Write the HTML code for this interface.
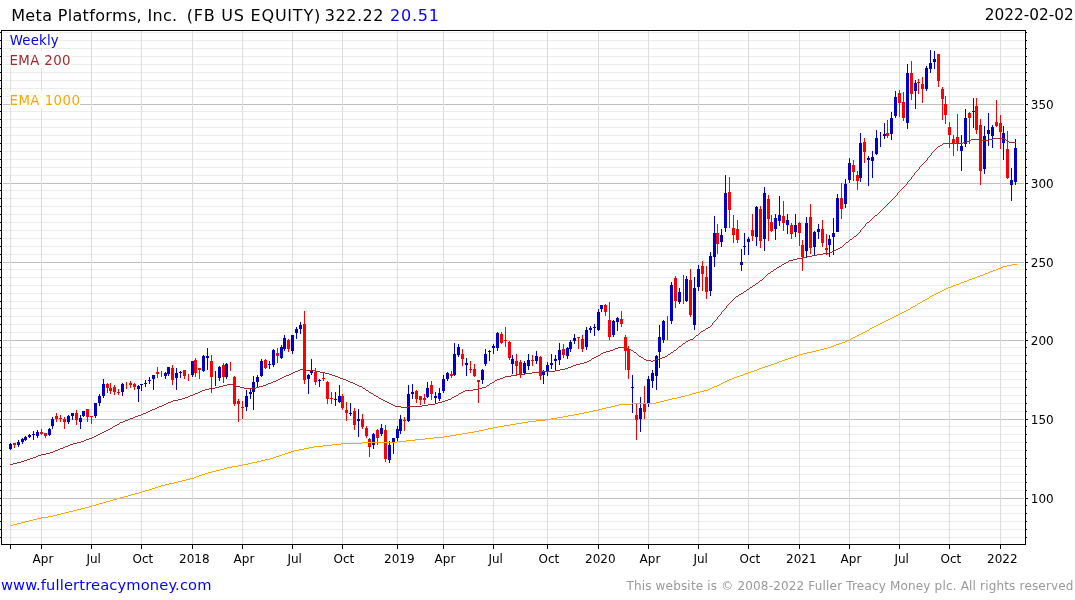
<!DOCTYPE html>
<html lang="en"><head><meta charset="utf-8"><title>Meta Platforms, Inc. (FB US EQUITY)</title>
<style>html,body{margin:0;padding:0;background:#fff;}body{width:1075px;height:600px;overflow:hidden;}svg{display:block;will-change:transform;font-family:"DejaVu Sans","Liberation Sans",sans-serif;}.t{font-size:16px;}.l{font-size:13.33px;}.x{font-size:12px;}</style></head><body>
<svg width="1075" height="600" viewBox="0 0 1075 600">
<rect width="1075" height="600" fill="#fff"/>
<g shape-rendering="crispEdges">
<rect x="3" y="537" width="1021" height="1" fill="#ececec"/>
<rect x="3" y="529" width="1021" height="1" fill="#ececec"/>
<rect x="3" y="521" width="1021" height="1" fill="#ececec"/>
<rect x="3" y="513" width="1021" height="1" fill="#ececec"/>
<rect x="3" y="505" width="1021" height="1" fill="#ececec"/>
<rect x="3" y="498" width="1021" height="1" fill="#c0c0c0"/>
<rect x="3" y="490" width="1021" height="1" fill="#ececec"/>
<rect x="3" y="482" width="1021" height="1" fill="#ececec"/>
<rect x="3" y="474" width="1021" height="1" fill="#ececec"/>
<rect x="3" y="466" width="1021" height="1" fill="#ececec"/>
<rect x="3" y="458" width="1021" height="1" fill="#ececec"/>
<rect x="3" y="450" width="1021" height="1" fill="#ececec"/>
<rect x="3" y="442" width="1021" height="1" fill="#ececec"/>
<rect x="3" y="434" width="1021" height="1" fill="#ececec"/>
<rect x="3" y="426" width="1021" height="1" fill="#ececec"/>
<rect x="3" y="419" width="1021" height="1" fill="#c0c0c0"/>
<rect x="3" y="411" width="1021" height="1" fill="#ececec"/>
<rect x="3" y="403" width="1021" height="1" fill="#ececec"/>
<rect x="3" y="395" width="1021" height="1" fill="#ececec"/>
<rect x="3" y="387" width="1021" height="1" fill="#ececec"/>
<rect x="3" y="379" width="1021" height="1" fill="#ececec"/>
<rect x="3" y="371" width="1021" height="1" fill="#ececec"/>
<rect x="3" y="363" width="1021" height="1" fill="#ececec"/>
<rect x="3" y="355" width="1021" height="1" fill="#ececec"/>
<rect x="3" y="347" width="1021" height="1" fill="#ececec"/>
<rect x="3" y="340" width="1021" height="1" fill="#c0c0c0"/>
<rect x="3" y="332" width="1021" height="1" fill="#ececec"/>
<rect x="3" y="324" width="1021" height="1" fill="#ececec"/>
<rect x="3" y="316" width="1021" height="1" fill="#ececec"/>
<rect x="3" y="308" width="1021" height="1" fill="#ececec"/>
<rect x="3" y="301" width="1021" height="1" fill="#ececec"/>
<rect x="3" y="293" width="1021" height="1" fill="#ececec"/>
<rect x="3" y="285" width="1021" height="1" fill="#ececec"/>
<rect x="3" y="277" width="1021" height="1" fill="#ececec"/>
<rect x="3" y="269" width="1021" height="1" fill="#ececec"/>
<rect x="3" y="262" width="1021" height="1" fill="#c0c0c0"/>
<rect x="3" y="254" width="1021" height="1" fill="#ececec"/>
<rect x="3" y="246" width="1021" height="1" fill="#ececec"/>
<rect x="3" y="238" width="1021" height="1" fill="#ececec"/>
<rect x="3" y="230" width="1021" height="1" fill="#ececec"/>
<rect x="3" y="222" width="1021" height="1" fill="#ececec"/>
<rect x="3" y="214" width="1021" height="1" fill="#ececec"/>
<rect x="3" y="206" width="1021" height="1" fill="#ececec"/>
<rect x="3" y="198" width="1021" height="1" fill="#ececec"/>
<rect x="3" y="190" width="1021" height="1" fill="#ececec"/>
<rect x="3" y="183" width="1021" height="1" fill="#c0c0c0"/>
<rect x="3" y="175" width="1021" height="1" fill="#ececec"/>
<rect x="3" y="167" width="1021" height="1" fill="#ececec"/>
<rect x="3" y="159" width="1021" height="1" fill="#ececec"/>
<rect x="3" y="151" width="1021" height="1" fill="#ececec"/>
<rect x="3" y="143" width="1021" height="1" fill="#ececec"/>
<rect x="3" y="135" width="1021" height="1" fill="#ececec"/>
<rect x="3" y="127" width="1021" height="1" fill="#ececec"/>
<rect x="3" y="119" width="1021" height="1" fill="#ececec"/>
<rect x="3" y="111" width="1021" height="1" fill="#ececec"/>
<rect x="3" y="104" width="1021" height="1" fill="#c0c0c0"/>
<rect x="3" y="96" width="1021" height="1" fill="#ececec"/>
<rect x="3" y="88" width="1021" height="1" fill="#ececec"/>
<rect x="3" y="80" width="1021" height="1" fill="#ececec"/>
<rect x="3" y="72" width="1021" height="1" fill="#ececec"/>
<rect x="3" y="64" width="1021" height="1" fill="#ececec"/>
<rect x="3" y="56" width="1021" height="1" fill="#ececec"/>
<rect x="3" y="48" width="1021" height="1" fill="#ececec"/>
<rect x="3" y="40" width="1021" height="1" fill="#ececec"/>
<rect x="3" y="32" width="1021" height="1" fill="#ececec"/>
<rect x="10" y="31" width="1" height="513" fill="#dcdcdc"/>
<rect x="41" y="31" width="1" height="513" fill="#dcdcdc"/>
<rect x="91" y="31" width="1" height="513" fill="#dcdcdc"/>
<rect x="141" y="31" width="1" height="513" fill="#dcdcdc"/>
<rect x="192" y="31" width="1" height="513" fill="#dcdcdc"/>
<rect x="242" y="31" width="1" height="513" fill="#dcdcdc"/>
<rect x="292" y="31" width="1" height="513" fill="#dcdcdc"/>
<rect x="342" y="31" width="1" height="513" fill="#dcdcdc"/>
<rect x="397" y="31" width="1" height="513" fill="#dcdcdc"/>
<rect x="443" y="31" width="1" height="513" fill="#dcdcdc"/>
<rect x="493" y="31" width="1" height="513" fill="#dcdcdc"/>
<rect x="547" y="31" width="1" height="513" fill="#dcdcdc"/>
<rect x="598" y="31" width="1" height="513" fill="#dcdcdc"/>
<rect x="648" y="31" width="1" height="513" fill="#dcdcdc"/>
<rect x="698" y="31" width="1" height="513" fill="#dcdcdc"/>
<rect x="748" y="31" width="1" height="513" fill="#dcdcdc"/>
<rect x="799" y="31" width="1" height="513" fill="#dcdcdc"/>
<rect x="849" y="31" width="1" height="513" fill="#dcdcdc"/>
<rect x="899" y="31" width="1" height="513" fill="#dcdcdc"/>
<rect x="949" y="31" width="1" height="513" fill="#dcdcdc"/>
<rect x="1000" y="31" width="1" height="513" fill="#dcdcdc"/>
</g>
<rect x="10" y="31" width="49" height="17" fill="#fff"/>
<rect x="10" y="51" width="61" height="17" fill="#fff"/>
<rect x="10" y="91" width="70" height="17" fill="#fff"/>
<g shape-rendering="crispEdges">
<rect x="10" y="443" width="1" height="7" fill="#0000cd"/>
<rect x="9" y="444" width="3" height="5" fill="#0000cd"/>
<rect x="14" y="443" width="1" height="5" fill="#ff0000"/>
<rect x="13" y="443" width="3" height="2" fill="#ff0000"/>
<rect x="18" y="440" width="1" height="7" fill="#0000cd"/>
<rect x="17" y="442" width="3" height="3" fill="#0000cd"/>
<rect x="22" y="438" width="1" height="6" fill="#0000cd"/>
<rect x="21" y="439" width="3" height="3" fill="#0000cd"/>
<rect x="25" y="436" width="1" height="5" fill="#0000cd"/>
<rect x="24" y="437" width="3" height="3" fill="#0000cd"/>
<rect x="29" y="434" width="1" height="4" fill="#0000cd"/>
<rect x="28" y="435" width="3" height="2" fill="#0000cd"/>
<rect x="33" y="431" width="1" height="9" fill="#0000cd"/>
<rect x="32" y="434" width="3" height="1" fill="#0000cd"/>
<rect x="37" y="430" width="1" height="8" fill="#0000cd"/>
<rect x="36" y="432" width="3" height="4" fill="#0000cd"/>
<rect x="41" y="429" width="1" height="6" fill="#ff0000"/>
<rect x="40" y="432" width="3" height="2" fill="#ff0000"/>
<rect x="45" y="433" width="1" height="5" fill="#ff0000"/>
<rect x="44" y="433" width="3" height="3" fill="#ff0000"/>
<rect x="49" y="428" width="1" height="8" fill="#0000cd"/>
<rect x="48" y="429" width="3" height="6" fill="#0000cd"/>
<rect x="52" y="417" width="1" height="12" fill="#0000cd"/>
<rect x="51" y="419" width="3" height="7" fill="#0000cd"/>
<rect x="56" y="413" width="1" height="9" fill="#ff0000"/>
<rect x="55" y="416" width="3" height="3" fill="#ff0000"/>
<rect x="60" y="415" width="1" height="7" fill="#ff0000"/>
<rect x="59" y="418" width="3" height="1" fill="#ff0000"/>
<rect x="64" y="417" width="1" height="12" fill="#ff0000"/>
<rect x="63" y="419" width="3" height="3" fill="#ff0000"/>
<rect x="68" y="415" width="1" height="9" fill="#0000cd"/>
<rect x="67" y="416" width="3" height="6" fill="#0000cd"/>
<rect x="72" y="413" width="1" height="7" fill="#0000cd"/>
<rect x="71" y="413" width="3" height="3" fill="#0000cd"/>
<rect x="76" y="410" width="1" height="15" fill="#ff0000"/>
<rect x="75" y="413" width="3" height="7" fill="#ff0000"/>
<rect x="80" y="415" width="1" height="14" fill="#0000cd"/>
<rect x="79" y="418" width="3" height="4" fill="#0000cd"/>
<rect x="83" y="411" width="1" height="6" fill="#0000cd"/>
<rect x="82" y="411" width="3" height="5" fill="#0000cd"/>
<rect x="87" y="409" width="1" height="13" fill="#ff0000"/>
<rect x="86" y="409" width="3" height="8" fill="#ff0000"/>
<rect x="91" y="416" width="1" height="8" fill="#ff0000"/>
<rect x="90" y="416" width="3" height="1" fill="#ff0000"/>
<rect x="95" y="403" width="1" height="15" fill="#0000cd"/>
<rect x="94" y="403" width="3" height="13" fill="#0000cd"/>
<rect x="99" y="394" width="1" height="12" fill="#0000cd"/>
<rect x="98" y="396" width="3" height="7" fill="#0000cd"/>
<rect x="103" y="379" width="1" height="19" fill="#0000cd"/>
<rect x="102" y="384" width="3" height="12" fill="#0000cd"/>
<rect x="107" y="383" width="1" height="10" fill="#ff0000"/>
<rect x="106" y="384" width="3" height="4" fill="#ff0000"/>
<rect x="110" y="383" width="1" height="11" fill="#ff0000"/>
<rect x="109" y="388" width="3" height="3" fill="#ff0000"/>
<rect x="114" y="385" width="1" height="10" fill="#ff0000"/>
<rect x="113" y="387" width="3" height="5" fill="#ff0000"/>
<rect x="118" y="389" width="1" height="6" fill="#ff0000"/>
<rect x="117" y="392" width="3" height="1" fill="#ff0000"/>
<rect x="122" y="383" width="1" height="13" fill="#0000cd"/>
<rect x="121" y="384" width="3" height="8" fill="#0000cd"/>
<rect x="126" y="382" width="1" height="7" fill="#ff0000"/>
<rect x="130" y="381" width="1" height="7" fill="#ff0000"/>
<rect x="129" y="383" width="3" height="2" fill="#ff0000"/>
<rect x="134" y="383" width="1" height="7" fill="#ff0000"/>
<rect x="133" y="384" width="3" height="3" fill="#ff0000"/>
<rect x="138" y="385" width="1" height="17" fill="#0000cd"/>
<rect x="137" y="386" width="3" height="3" fill="#0000cd"/>
<rect x="141" y="384" width="1" height="7" fill="#0000cd"/>
<rect x="140" y="384" width="3" height="1" fill="#0000cd"/>
<rect x="145" y="380" width="1" height="7" fill="#0000cd"/>
<rect x="144" y="383" width="3" height="1" fill="#0000cd"/>
<rect x="149" y="377" width="1" height="7" fill="#0000cd"/>
<rect x="148" y="380" width="3" height="1" fill="#0000cd"/>
<rect x="153" y="375" width="1" height="15" fill="#0000cd"/>
<rect x="152" y="375" width="3" height="4" fill="#0000cd"/>
<rect x="157" y="367" width="1" height="11" fill="#ff0000"/>
<rect x="156" y="372" width="3" height="2" fill="#ff0000"/>
<rect x="161" y="371" width="1" height="6" fill="#ff0000"/>
<rect x="165" y="372" width="1" height="7" fill="#0000cd"/>
<rect x="164" y="373" width="3" height="3" fill="#0000cd"/>
<rect x="168" y="367" width="1" height="9" fill="#0000cd"/>
<rect x="167" y="367" width="3" height="7" fill="#0000cd"/>
<rect x="172" y="365" width="1" height="20" fill="#ff0000"/>
<rect x="171" y="368" width="3" height="12" fill="#ff0000"/>
<rect x="176" y="368" width="1" height="22" fill="#0000cd"/>
<rect x="175" y="373" width="3" height="5" fill="#0000cd"/>
<rect x="180" y="371" width="1" height="7" fill="#0000cd"/>
<rect x="179" y="372" width="3" height="1" fill="#0000cd"/>
<rect x="184" y="370" width="1" height="9" fill="#ff0000"/>
<rect x="183" y="370" width="3" height="6" fill="#ff0000"/>
<rect x="188" y="374" width="1" height="7" fill="#ff0000"/>
<rect x="192" y="361" width="1" height="16" fill="#0000cd"/>
<rect x="191" y="361" width="3" height="14" fill="#0000cd"/>
<rect x="195" y="358" width="1" height="19" fill="#ff0000"/>
<rect x="194" y="360" width="3" height="13" fill="#ff0000"/>
<rect x="199" y="368" width="1" height="11" fill="#ff0000"/>
<rect x="198" y="368" width="3" height="2" fill="#ff0000"/>
<rect x="203" y="355" width="1" height="17" fill="#0000cd"/>
<rect x="202" y="356" width="3" height="15" fill="#0000cd"/>
<rect x="207" y="348" width="1" height="22" fill="#0000cd"/>
<rect x="206" y="356" width="3" height="2" fill="#0000cd"/>
<rect x="211" y="355" width="1" height="38" fill="#ff0000"/>
<rect x="210" y="361" width="3" height="16" fill="#ff0000"/>
<rect x="215" y="371" width="1" height="15" fill="#0000cd"/>
<rect x="219" y="366" width="1" height="15" fill="#0000cd"/>
<rect x="218" y="367" width="3" height="11" fill="#0000cd"/>
<rect x="223" y="363" width="1" height="20" fill="#ff0000"/>
<rect x="222" y="365" width="3" height="12" fill="#ff0000"/>
<rect x="226" y="363" width="1" height="16" fill="#0000cd"/>
<rect x="225" y="364" width="3" height="13" fill="#0000cd"/>
<rect x="230" y="362" width="1" height="9" fill="#ff0000"/>
<rect x="234" y="376" width="1" height="30" fill="#ff0000"/>
<rect x="233" y="377" width="3" height="27" fill="#ff0000"/>
<rect x="238" y="399" width="1" height="23" fill="#ff0000"/>
<rect x="237" y="401" width="3" height="3" fill="#ff0000"/>
<rect x="242" y="401" width="1" height="18" fill="#ff0000"/>
<rect x="241" y="407" width="3" height="1" fill="#ff0000"/>
<rect x="246" y="390" width="1" height="21" fill="#0000cd"/>
<rect x="245" y="396" width="3" height="11" fill="#0000cd"/>
<rect x="250" y="389" width="1" height="10" fill="#0000cd"/>
<rect x="249" y="392" width="3" height="2" fill="#0000cd"/>
<rect x="253" y="376" width="1" height="34" fill="#0000cd"/>
<rect x="252" y="382" width="3" height="10" fill="#0000cd"/>
<rect x="257" y="375" width="1" height="12" fill="#0000cd"/>
<rect x="256" y="377" width="3" height="5" fill="#0000cd"/>
<rect x="261" y="359" width="1" height="18" fill="#0000cd"/>
<rect x="260" y="361" width="3" height="15" fill="#0000cd"/>
<rect x="265" y="359" width="1" height="10" fill="#ff0000"/>
<rect x="264" y="360" width="3" height="8" fill="#ff0000"/>
<rect x="269" y="361" width="1" height="8" fill="#0000cd"/>
<rect x="268" y="364" width="3" height="1" fill="#0000cd"/>
<rect x="273" y="349" width="1" height="18" fill="#0000cd"/>
<rect x="272" y="350" width="3" height="15" fill="#0000cd"/>
<rect x="277" y="348" width="1" height="15" fill="#ff0000"/>
<rect x="276" y="353" width="3" height="3" fill="#ff0000"/>
<rect x="281" y="345" width="1" height="14" fill="#0000cd"/>
<rect x="280" y="347" width="3" height="11" fill="#0000cd"/>
<rect x="284" y="335" width="1" height="16" fill="#0000cd"/>
<rect x="283" y="338" width="3" height="11" fill="#0000cd"/>
<rect x="288" y="339" width="1" height="13" fill="#ff0000"/>
<rect x="287" y="340" width="3" height="9" fill="#ff0000"/>
<rect x="292" y="335" width="1" height="19" fill="#0000cd"/>
<rect x="291" y="335" width="3" height="16" fill="#0000cd"/>
<rect x="296" y="327" width="1" height="12" fill="#0000cd"/>
<rect x="295" y="329" width="3" height="4" fill="#0000cd"/>
<rect x="300" y="322" width="1" height="12" fill="#0000cd"/>
<rect x="299" y="325" width="3" height="4" fill="#0000cd"/>
<rect x="304" y="311" width="1" height="73" fill="#ff0000"/>
<rect x="303" y="324" width="3" height="56" fill="#ff0000"/>
<rect x="308" y="374" width="1" height="20" fill="#0000cd"/>
<rect x="307" y="375" width="3" height="4" fill="#0000cd"/>
<rect x="311" y="359" width="1" height="16" fill="#0000cd"/>
<rect x="310" y="371" width="3" height="2" fill="#0000cd"/>
<rect x="315" y="368" width="1" height="17" fill="#ff0000"/>
<rect x="314" y="372" width="3" height="10" fill="#ff0000"/>
<rect x="319" y="379" width="1" height="8" fill="#0000cd"/>
<rect x="318" y="380" width="3" height="1" fill="#0000cd"/>
<rect x="323" y="372" width="1" height="9" fill="#ff0000"/>
<rect x="322" y="378" width="3" height="1" fill="#ff0000"/>
<rect x="327" y="381" width="1" height="23" fill="#ff0000"/>
<rect x="326" y="382" width="3" height="17" fill="#ff0000"/>
<rect x="331" y="392" width="1" height="12" fill="#ff0000"/>
<rect x="330" y="398" width="3" height="1" fill="#ff0000"/>
<rect x="335" y="392" width="1" height="14" fill="#0000cd"/>
<rect x="334" y="399" width="3" height="1" fill="#0000cd"/>
<rect x="339" y="385" width="1" height="18" fill="#0000cd"/>
<rect x="338" y="396" width="3" height="6" fill="#0000cd"/>
<rect x="342" y="394" width="1" height="16" fill="#ff0000"/>
<rect x="341" y="396" width="3" height="12" fill="#ff0000"/>
<rect x="346" y="402" width="1" height="19" fill="#ff0000"/>
<rect x="345" y="410" width="3" height="3" fill="#ff0000"/>
<rect x="350" y="403" width="1" height="13" fill="#0000cd"/>
<rect x="349" y="413" width="3" height="1" fill="#0000cd"/>
<rect x="354" y="408" width="1" height="22" fill="#ff0000"/>
<rect x="353" y="411" width="3" height="14" fill="#ff0000"/>
<rect x="358" y="409" width="1" height="28" fill="#0000cd"/>
<rect x="357" y="419" width="3" height="2" fill="#0000cd"/>
<rect x="362" y="414" width="1" height="15" fill="#ff0000"/>
<rect x="361" y="419" width="3" height="8" fill="#ff0000"/>
<rect x="366" y="426" width="1" height="12" fill="#ff0000"/>
<rect x="365" y="428" width="3" height="8" fill="#ff0000"/>
<rect x="369" y="438" width="1" height="19" fill="#ff0000"/>
<rect x="368" y="439" width="3" height="8" fill="#ff0000"/>
<rect x="373" y="433" width="1" height="16" fill="#0000cd"/>
<rect x="372" y="434" width="3" height="11" fill="#0000cd"/>
<rect x="377" y="429" width="1" height="16" fill="#ff0000"/>
<rect x="376" y="430" width="3" height="8" fill="#ff0000"/>
<rect x="381" y="424" width="1" height="12" fill="#0000cd"/>
<rect x="380" y="428" width="3" height="6" fill="#0000cd"/>
<rect x="385" y="425" width="1" height="37" fill="#ff0000"/>
<rect x="384" y="430" width="3" height="29" fill="#ff0000"/>
<rect x="389" y="441" width="1" height="22" fill="#0000cd"/>
<rect x="388" y="445" width="3" height="15" fill="#0000cd"/>
<rect x="393" y="438" width="1" height="16" fill="#0000cd"/>
<rect x="392" y="438" width="3" height="5" fill="#0000cd"/>
<rect x="397" y="426" width="1" height="15" fill="#0000cd"/>
<rect x="396" y="429" width="3" height="9" fill="#0000cd"/>
<rect x="400" y="415" width="1" height="19" fill="#0000cd"/>
<rect x="399" y="419" width="3" height="12" fill="#0000cd"/>
<rect x="404" y="417" width="1" height="14" fill="#ff0000"/>
<rect x="403" y="420" width="3" height="1" fill="#ff0000"/>
<rect x="408" y="385" width="1" height="37" fill="#0000cd"/>
<rect x="407" y="394" width="3" height="27" fill="#0000cd"/>
<rect x="412" y="384" width="1" height="15" fill="#0000cd"/>
<rect x="411" y="392" width="3" height="2" fill="#0000cd"/>
<rect x="416" y="390" width="1" height="13" fill="#ff0000"/>
<rect x="415" y="391" width="3" height="8" fill="#ff0000"/>
<rect x="420" y="396" width="1" height="9" fill="#ff0000"/>
<rect x="419" y="396" width="3" height="4" fill="#ff0000"/>
<rect x="424" y="394" width="1" height="10" fill="#ff0000"/>
<rect x="423" y="398" width="3" height="2" fill="#ff0000"/>
<rect x="427" y="382" width="1" height="16" fill="#0000cd"/>
<rect x="426" y="388" width="3" height="9" fill="#0000cd"/>
<rect x="431" y="381" width="1" height="19" fill="#ff0000"/>
<rect x="430" y="385" width="3" height="9" fill="#ff0000"/>
<rect x="435" y="392" width="1" height="12" fill="#0000cd"/>
<rect x="434" y="396" width="3" height="2" fill="#0000cd"/>
<rect x="439" y="388" width="1" height="13" fill="#0000cd"/>
<rect x="438" y="393" width="3" height="6" fill="#0000cd"/>
<rect x="443" y="375" width="1" height="18" fill="#0000cd"/>
<rect x="442" y="379" width="3" height="12" fill="#0000cd"/>
<rect x="447" y="372" width="1" height="9" fill="#0000cd"/>
<rect x="446" y="373" width="3" height="6" fill="#0000cd"/>
<rect x="451" y="371" width="1" height="7" fill="#ff0000"/>
<rect x="450" y="374" width="3" height="2" fill="#ff0000"/>
<rect x="454" y="343" width="1" height="33" fill="#0000cd"/>
<rect x="453" y="354" width="3" height="21" fill="#0000cd"/>
<rect x="458" y="344" width="1" height="13" fill="#0000cd"/>
<rect x="457" y="347" width="3" height="8" fill="#0000cd"/>
<rect x="462" y="349" width="1" height="17" fill="#ff0000"/>
<rect x="461" y="354" width="3" height="5" fill="#ff0000"/>
<rect x="466" y="358" width="1" height="18" fill="#0000cd"/>
<rect x="465" y="363" width="3" height="2" fill="#0000cd"/>
<rect x="470" y="361" width="1" height="12" fill="#ff0000"/>
<rect x="469" y="369" width="3" height="1" fill="#ff0000"/>
<rect x="474" y="364" width="1" height="13" fill="#ff0000"/>
<rect x="473" y="369" width="3" height="7" fill="#ff0000"/>
<rect x="478" y="380" width="1" height="23" fill="#ff0000"/>
<rect x="477" y="380" width="3" height="2" fill="#ff0000"/>
<rect x="482" y="369" width="1" height="15" fill="#0000cd"/>
<rect x="481" y="370" width="3" height="10" fill="#0000cd"/>
<rect x="485" y="349" width="1" height="17" fill="#0000cd"/>
<rect x="484" y="354" width="3" height="10" fill="#0000cd"/>
<rect x="489" y="350" width="1" height="11" fill="#0000cd"/>
<rect x="488" y="351" width="3" height="1" fill="#0000cd"/>
<rect x="493" y="344" width="1" height="10" fill="#0000cd"/>
<rect x="492" y="346" width="3" height="2" fill="#0000cd"/>
<rect x="497" y="332" width="1" height="19" fill="#0000cd"/>
<rect x="496" y="333" width="3" height="15" fill="#0000cd"/>
<rect x="501" y="332" width="1" height="12" fill="#ff0000"/>
<rect x="500" y="334" width="3" height="9" fill="#ff0000"/>
<rect x="505" y="327" width="1" height="20" fill="#ff0000"/>
<rect x="504" y="340" width="3" height="1" fill="#ff0000"/>
<rect x="509" y="341" width="1" height="19" fill="#ff0000"/>
<rect x="508" y="342" width="3" height="16" fill="#ff0000"/>
<rect x="512" y="355" width="1" height="19" fill="#0000cd"/>
<rect x="511" y="359" width="3" height="5" fill="#0000cd"/>
<rect x="516" y="354" width="1" height="21" fill="#ff0000"/>
<rect x="515" y="361" width="3" height="5" fill="#ff0000"/>
<rect x="520" y="360" width="1" height="18" fill="#ff0000"/>
<rect x="519" y="362" width="3" height="13" fill="#ff0000"/>
<rect x="524" y="361" width="1" height="14" fill="#0000cd"/>
<rect x="523" y="363" width="3" height="10" fill="#0000cd"/>
<rect x="528" y="354" width="1" height="16" fill="#0000cd"/>
<rect x="527" y="360" width="3" height="6" fill="#0000cd"/>
<rect x="532" y="355" width="1" height="11" fill="#ff0000"/>
<rect x="531" y="360" width="3" height="1" fill="#ff0000"/>
<rect x="536" y="351" width="1" height="13" fill="#0000cd"/>
<rect x="535" y="356" width="3" height="5" fill="#0000cd"/>
<rect x="540" y="356" width="1" height="24" fill="#ff0000"/>
<rect x="539" y="357" width="3" height="19" fill="#ff0000"/>
<rect x="543" y="370" width="1" height="14" fill="#0000cd"/>
<rect x="542" y="372" width="3" height="3" fill="#0000cd"/>
<rect x="547" y="362" width="1" height="14" fill="#0000cd"/>
<rect x="546" y="365" width="3" height="7" fill="#0000cd"/>
<rect x="551" y="354" width="1" height="15" fill="#0000cd"/>
<rect x="550" y="363" width="3" height="2" fill="#0000cd"/>
<rect x="555" y="355" width="1" height="15" fill="#0000cd"/>
<rect x="554" y="359" width="3" height="2" fill="#0000cd"/>
<rect x="559" y="343" width="1" height="22" fill="#0000cd"/>
<rect x="558" y="350" width="3" height="10" fill="#0000cd"/>
<rect x="563" y="344" width="1" height="14" fill="#ff0000"/>
<rect x="562" y="349" width="3" height="6" fill="#ff0000"/>
<rect x="567" y="347" width="1" height="12" fill="#0000cd"/>
<rect x="566" y="348" width="3" height="8" fill="#0000cd"/>
<rect x="570" y="340" width="1" height="12" fill="#0000cd"/>
<rect x="569" y="342" width="3" height="7" fill="#0000cd"/>
<rect x="574" y="334" width="1" height="10" fill="#0000cd"/>
<rect x="573" y="338" width="3" height="3" fill="#0000cd"/>
<rect x="578" y="337" width="1" height="12" fill="#ff0000"/>
<rect x="577" y="337" width="3" height="1" fill="#ff0000"/>
<rect x="582" y="335" width="1" height="17" fill="#ff0000"/>
<rect x="581" y="339" width="3" height="10" fill="#ff0000"/>
<rect x="586" y="327" width="1" height="23" fill="#0000cd"/>
<rect x="585" y="330" width="3" height="17" fill="#0000cd"/>
<rect x="590" y="326" width="1" height="7" fill="#0000cd"/>
<rect x="589" y="328" width="3" height="2" fill="#0000cd"/>
<rect x="594" y="324" width="1" height="12" fill="#0000cd"/>
<rect x="593" y="327" width="3" height="1" fill="#0000cd"/>
<rect x="598" y="309" width="1" height="22" fill="#0000cd"/>
<rect x="597" y="312" width="3" height="18" fill="#0000cd"/>
<rect x="601" y="305" width="1" height="7" fill="#0000cd"/>
<rect x="600" y="305" width="3" height="4" fill="#0000cd"/>
<rect x="605" y="304" width="1" height="12" fill="#ff0000"/>
<rect x="604" y="305" width="3" height="7" fill="#ff0000"/>
<rect x="609" y="302" width="1" height="38" fill="#ff0000"/>
<rect x="608" y="320" width="3" height="17" fill="#ff0000"/>
<rect x="613" y="320" width="1" height="17" fill="#0000cd"/>
<rect x="612" y="321" width="3" height="14" fill="#0000cd"/>
<rect x="617" y="317" width="1" height="14" fill="#0000cd"/>
<rect x="616" y="318" width="3" height="4" fill="#0000cd"/>
<rect x="621" y="311" width="1" height="16" fill="#ff0000"/>
<rect x="620" y="319" width="3" height="5" fill="#ff0000"/>
<rect x="625" y="335" width="1" height="35" fill="#ff0000"/>
<rect x="624" y="337" width="3" height="14" fill="#ff0000"/>
<rect x="628" y="346" width="1" height="33" fill="#ff0000"/>
<rect x="627" y="349" width="3" height="21" fill="#ff0000"/>
<rect x="632" y="375" width="1" height="38" fill="#0000cd"/>
<rect x="631" y="387" width="3" height="1" fill="#0000cd"/>
<rect x="636" y="403" width="1" height="37" fill="#ff0000"/>
<rect x="635" y="415" width="3" height="5" fill="#ff0000"/>
<rect x="640" y="397" width="1" height="35" fill="#0000cd"/>
<rect x="639" y="408" width="3" height="11" fill="#0000cd"/>
<rect x="644" y="386" width="1" height="33" fill="#ff0000"/>
<rect x="643" y="404" width="3" height="8" fill="#ff0000"/>
<rect x="648" y="376" width="1" height="31" fill="#0000cd"/>
<rect x="647" y="379" width="3" height="25" fill="#0000cd"/>
<rect x="652" y="370" width="1" height="18" fill="#0000cd"/>
<rect x="651" y="373" width="3" height="8" fill="#0000cd"/>
<rect x="656" y="355" width="1" height="35" fill="#0000cd"/>
<rect x="655" y="356" width="3" height="20" fill="#0000cd"/>
<rect x="659" y="325" width="1" height="43" fill="#0000cd"/>
<rect x="658" y="337" width="3" height="15" fill="#0000cd"/>
<rect x="663" y="320" width="1" height="23" fill="#0000cd"/>
<rect x="662" y="321" width="3" height="19" fill="#0000cd"/>
<rect x="667" y="316" width="1" height="24" fill="#ff0000"/>
<rect x="671" y="282" width="1" height="42" fill="#0000cd"/>
<rect x="670" y="285" width="3" height="36" fill="#0000cd"/>
<rect x="675" y="276" width="1" height="32" fill="#ff0000"/>
<rect x="674" y="278" width="3" height="23" fill="#ff0000"/>
<rect x="679" y="288" width="1" height="16" fill="#0000cd"/>
<rect x="678" y="292" width="3" height="10" fill="#0000cd"/>
<rect x="683" y="275" width="1" height="29" fill="#ff0000"/>
<rect x="686" y="276" width="1" height="26" fill="#0000cd"/>
<rect x="685" y="279" width="3" height="22" fill="#0000cd"/>
<rect x="690" y="269" width="1" height="48" fill="#ff0000"/>
<rect x="689" y="280" width="3" height="35" fill="#ff0000"/>
<rect x="694" y="277" width="1" height="53" fill="#0000cd"/>
<rect x="693" y="288" width="3" height="37" fill="#0000cd"/>
<rect x="698" y="265" width="1" height="26" fill="#0000cd"/>
<rect x="697" y="269" width="3" height="18" fill="#0000cd"/>
<rect x="702" y="261" width="1" height="30" fill="#ff0000"/>
<rect x="701" y="266" width="3" height="8" fill="#ff0000"/>
<rect x="706" y="266" width="1" height="33" fill="#ff0000"/>
<rect x="705" y="277" width="3" height="15" fill="#ff0000"/>
<rect x="710" y="252" width="1" height="44" fill="#0000cd"/>
<rect x="709" y="256" width="3" height="35" fill="#0000cd"/>
<rect x="714" y="216" width="1" height="51" fill="#0000cd"/>
<rect x="713" y="233" width="3" height="24" fill="#0000cd"/>
<rect x="717" y="224" width="1" height="30" fill="#ff0000"/>
<rect x="716" y="233" width="3" height="11" fill="#ff0000"/>
<rect x="721" y="229" width="1" height="18" fill="#0000cd"/>
<rect x="720" y="235" width="3" height="7" fill="#0000cd"/>
<rect x="725" y="175" width="1" height="57" fill="#0000cd"/>
<rect x="724" y="193" width="3" height="35" fill="#0000cd"/>
<rect x="729" y="177" width="1" height="51" fill="#ff0000"/>
<rect x="728" y="192" width="3" height="18" fill="#ff0000"/>
<rect x="733" y="215" width="1" height="28" fill="#ff0000"/>
<rect x="732" y="228" width="3" height="7" fill="#ff0000"/>
<rect x="737" y="220" width="1" height="23" fill="#ff0000"/>
<rect x="736" y="229" width="3" height="11" fill="#ff0000"/>
<rect x="741" y="249" width="1" height="22" fill="#0000cd"/>
<rect x="740" y="262" width="3" height="3" fill="#0000cd"/>
<rect x="744" y="233" width="1" height="22" fill="#0000cd"/>
<rect x="743" y="246" width="3" height="1" fill="#0000cd"/>
<rect x="748" y="237" width="1" height="18" fill="#0000cd"/>
<rect x="747" y="239" width="3" height="3" fill="#0000cd"/>
<rect x="752" y="214" width="1" height="27" fill="#ff0000"/>
<rect x="751" y="230" width="3" height="6" fill="#ff0000"/>
<rect x="756" y="206" width="1" height="40" fill="#0000cd"/>
<rect x="755" y="207" width="3" height="30" fill="#0000cd"/>
<rect x="760" y="206" width="1" height="42" fill="#ff0000"/>
<rect x="759" y="209" width="3" height="32" fill="#ff0000"/>
<rect x="764" y="187" width="1" height="64" fill="#0000cd"/>
<rect x="763" y="193" width="3" height="46" fill="#0000cd"/>
<rect x="768" y="195" width="1" height="46" fill="#ff0000"/>
<rect x="767" y="199" width="3" height="20" fill="#ff0000"/>
<rect x="771" y="215" width="1" height="17" fill="#ff0000"/>
<rect x="770" y="222" width="3" height="9" fill="#ff0000"/>
<rect x="775" y="214" width="1" height="26" fill="#0000cd"/>
<rect x="774" y="218" width="3" height="11" fill="#0000cd"/>
<rect x="779" y="196" width="1" height="30" fill="#0000cd"/>
<rect x="778" y="215" width="3" height="6" fill="#0000cd"/>
<rect x="783" y="201" width="1" height="30" fill="#ff0000"/>
<rect x="782" y="216" width="3" height="7" fill="#ff0000"/>
<rect x="787" y="214" width="1" height="20" fill="#0000cd"/>
<rect x="786" y="220" width="3" height="5" fill="#0000cd"/>
<rect x="791" y="223" width="1" height="16" fill="#ff0000"/>
<rect x="790" y="225" width="3" height="9" fill="#ff0000"/>
<rect x="795" y="214" width="1" height="23" fill="#0000cd"/>
<rect x="794" y="225" width="3" height="7" fill="#0000cd"/>
<rect x="799" y="222" width="1" height="24" fill="#ff0000"/>
<rect x="798" y="223" width="3" height="10" fill="#ff0000"/>
<rect x="802" y="240" width="1" height="31" fill="#ff0000"/>
<rect x="801" y="245" width="3" height="12" fill="#ff0000"/>
<rect x="806" y="217" width="1" height="40" fill="#0000cd"/>
<rect x="805" y="223" width="3" height="28" fill="#0000cd"/>
<rect x="810" y="204" width="1" height="50" fill="#ff0000"/>
<rect x="809" y="217" width="3" height="31" fill="#ff0000"/>
<rect x="814" y="231" width="1" height="24" fill="#0000cd"/>
<rect x="813" y="232" width="3" height="15" fill="#0000cd"/>
<rect x="818" y="224" width="1" height="15" fill="#0000cd"/>
<rect x="817" y="229" width="3" height="3" fill="#0000cd"/>
<rect x="822" y="220" width="1" height="27" fill="#ff0000"/>
<rect x="821" y="229" width="3" height="14" fill="#ff0000"/>
<rect x="826" y="234" width="1" height="21" fill="#ff0000"/>
<rect x="825" y="248" width="3" height="2" fill="#ff0000"/>
<rect x="829" y="235" width="1" height="22" fill="#0000cd"/>
<rect x="828" y="239" width="3" height="6" fill="#0000cd"/>
<rect x="833" y="218" width="1" height="37" fill="#0000cd"/>
<rect x="832" y="233" width="3" height="4" fill="#0000cd"/>
<rect x="837" y="194" width="1" height="38" fill="#0000cd"/>
<rect x="836" y="198" width="3" height="34" fill="#0000cd"/>
<rect x="841" y="183" width="1" height="36" fill="#ff0000"/>
<rect x="840" y="198" width="3" height="11" fill="#ff0000"/>
<rect x="845" y="179" width="1" height="29" fill="#0000cd"/>
<rect x="844" y="184" width="3" height="20" fill="#0000cd"/>
<rect x="849" y="158" width="1" height="25" fill="#0000cd"/>
<rect x="848" y="163" width="3" height="17" fill="#0000cd"/>
<rect x="853" y="160" width="1" height="21" fill="#ff0000"/>
<rect x="852" y="165" width="3" height="7" fill="#ff0000"/>
<rect x="857" y="171" width="1" height="19" fill="#ff0000"/>
<rect x="856" y="175" width="3" height="6" fill="#ff0000"/>
<rect x="860" y="133" width="1" height="49" fill="#0000cd"/>
<rect x="859" y="143" width="3" height="35" fill="#0000cd"/>
<rect x="864" y="138" width="1" height="25" fill="#ff0000"/>
<rect x="863" y="142" width="3" height="10" fill="#ff0000"/>
<rect x="868" y="156" width="1" height="30" fill="#0000cd"/>
<rect x="867" y="158" width="3" height="2" fill="#0000cd"/>
<rect x="872" y="151" width="1" height="27" fill="#0000cd"/>
<rect x="871" y="157" width="3" height="4" fill="#0000cd"/>
<rect x="876" y="130" width="1" height="25" fill="#0000cd"/>
<rect x="875" y="138" width="3" height="16" fill="#0000cd"/>
<rect x="880" y="132" width="1" height="15" fill="#0000cd"/>
<rect x="884" y="123" width="1" height="16" fill="#0000cd"/>
<rect x="883" y="134" width="3" height="2" fill="#0000cd"/>
<rect x="887" y="120" width="1" height="18" fill="#ff0000"/>
<rect x="886" y="133" width="3" height="3" fill="#ff0000"/>
<rect x="891" y="112" width="1" height="28" fill="#0000cd"/>
<rect x="890" y="118" width="3" height="16" fill="#0000cd"/>
<rect x="895" y="91" width="1" height="27" fill="#0000cd"/>
<rect x="894" y="97" width="3" height="19" fill="#0000cd"/>
<rect x="899" y="90" width="1" height="27" fill="#ff0000"/>
<rect x="898" y="93" width="3" height="10" fill="#ff0000"/>
<rect x="903" y="92" width="1" height="29" fill="#ff0000"/>
<rect x="902" y="102" width="3" height="16" fill="#ff0000"/>
<rect x="907" y="64" width="1" height="65" fill="#0000cd"/>
<rect x="906" y="73" width="3" height="50" fill="#0000cd"/>
<rect x="911" y="61" width="1" height="39" fill="#ff0000"/>
<rect x="910" y="73" width="3" height="21" fill="#ff0000"/>
<rect x="915" y="80" width="1" height="29" fill="#0000cd"/>
<rect x="914" y="83" width="3" height="8" fill="#0000cd"/>
<rect x="918" y="79" width="1" height="15" fill="#ff0000"/>
<rect x="917" y="82" width="3" height="1" fill="#ff0000"/>
<rect x="922" y="77" width="1" height="26" fill="#ff0000"/>
<rect x="921" y="84" width="3" height="5" fill="#ff0000"/>
<rect x="926" y="66" width="1" height="25" fill="#0000cd"/>
<rect x="925" y="68" width="3" height="21" fill="#0000cd"/>
<rect x="930" y="50" width="1" height="23" fill="#0000cd"/>
<rect x="929" y="63" width="3" height="6" fill="#0000cd"/>
<rect x="934" y="51" width="1" height="18" fill="#0000cd"/>
<rect x="933" y="59" width="3" height="3" fill="#0000cd"/>
<rect x="938" y="54" width="1" height="33" fill="#ff0000"/>
<rect x="937" y="54" width="3" height="27" fill="#ff0000"/>
<rect x="942" y="87" width="1" height="33" fill="#ff0000"/>
<rect x="941" y="89" width="3" height="10" fill="#ff0000"/>
<rect x="945" y="96" width="1" height="28" fill="#ff0000"/>
<rect x="944" y="104" width="3" height="11" fill="#ff0000"/>
<rect x="949" y="122" width="1" height="26" fill="#ff0000"/>
<rect x="948" y="127" width="3" height="8" fill="#ff0000"/>
<rect x="953" y="135" width="1" height="21" fill="#ff0000"/>
<rect x="952" y="139" width="3" height="5" fill="#ff0000"/>
<rect x="957" y="114" width="1" height="37" fill="#ff0000"/>
<rect x="956" y="137" width="3" height="7" fill="#ff0000"/>
<rect x="961" y="135" width="1" height="36" fill="#0000cd"/>
<rect x="960" y="146" width="3" height="5" fill="#0000cd"/>
<rect x="965" y="109" width="1" height="38" fill="#0000cd"/>
<rect x="964" y="118" width="3" height="26" fill="#0000cd"/>
<rect x="969" y="112" width="1" height="32" fill="#ff0000"/>
<rect x="968" y="113" width="3" height="5" fill="#ff0000"/>
<rect x="973" y="98" width="1" height="30" fill="#0000cd"/>
<rect x="972" y="111" width="3" height="1" fill="#0000cd"/>
<rect x="976" y="98" width="1" height="36" fill="#ff0000"/>
<rect x="975" y="106" width="3" height="24" fill="#ff0000"/>
<rect x="980" y="119" width="1" height="66" fill="#ff0000"/>
<rect x="979" y="125" width="3" height="46" fill="#ff0000"/>
<rect x="984" y="126" width="1" height="48" fill="#0000cd"/>
<rect x="983" y="136" width="3" height="33" fill="#0000cd"/>
<rect x="988" y="113" width="1" height="33" fill="#0000cd"/>
<rect x="987" y="130" width="3" height="4" fill="#0000cd"/>
<rect x="992" y="125" width="1" height="23" fill="#0000cd"/>
<rect x="991" y="127" width="3" height="9" fill="#0000cd"/>
<rect x="996" y="100" width="1" height="27" fill="#ff0000"/>
<rect x="995" y="122" width="3" height="4" fill="#ff0000"/>
<rect x="1000" y="115" width="1" height="34" fill="#ff0000"/>
<rect x="999" y="123" width="3" height="9" fill="#ff0000"/>
<rect x="1003" y="126" width="1" height="34" fill="#0000cd"/>
<rect x="1002" y="133" width="3" height="10" fill="#0000cd"/>
<rect x="1007" y="131" width="1" height="48" fill="#ff0000"/>
<rect x="1006" y="149" width="3" height="29" fill="#ff0000"/>
<rect x="1011" y="168" width="1" height="33" fill="#0000cd"/>
<rect x="1010" y="180" width="3" height="5" fill="#0000cd"/>
<rect x="1015" y="139" width="1" height="46" fill="#0000cd"/>
<rect x="1014" y="148" width="3" height="34" fill="#0000cd"/>
</g>
<path d="M10 525h3v1h-3zM13 524h4v1h-4zM17 523h4v1h-4zM21 522h4v1h-4zM25 521h4v1h-4zM29 520h4v1h-4zM33 519h4v1h-4zM37 518h4v1h-4zM41 517h7v1h-7zM48 516h5v1h-5zM53 515h4v1h-4zM57 514h4v1h-4zM61 513h4v1h-4zM65 512h4v1h-4zM69 511h4v1h-4zM73 510h4v1h-4zM77 509h4v1h-4zM81 508h4v1h-4zM85 507h4v1h-4zM89 506h3v1h-3zM92 505h4v1h-4zM96 504h3v1h-3zM99 503h4v1h-4zM103 502h3v1h-3zM106 501h4v1h-4zM110 500h3v1h-3zM113 499h4v1h-4zM117 498h3v1h-3zM120 497h4v1h-4zM124 496h4v1h-4zM128 495h3v1h-3zM131 494h4v1h-4zM135 493h4v1h-4zM139 492h3v1h-3zM142 491h3v1h-3zM145 490h4v1h-4zM149 489h3v1h-3zM152 488h3v1h-3zM155 487h3v1h-3zM158 486h3v1h-3zM161 485h4v1h-4zM165 484h4v1h-4zM169 483h5v1h-5zM174 482h4v1h-4zM178 481h4v1h-4zM182 480h4v1h-4zM186 479h4v1h-4zM190 478h4v1h-4zM194 477h2v1h-2zM196 476h3v1h-3zM199 475h3v1h-3zM202 474h3v1h-3zM205 473h3v1h-3zM208 472h4v1h-4zM212 471h4v1h-4zM216 470h4v1h-4zM220 469h4v1h-4zM224 468h3v1h-3zM227 467h5v1h-5zM232 466h6v1h-6zM238 465h5v1h-5zM243 464h5v1h-5zM248 463h4v1h-4zM252 462h5v1h-5zM257 461h4v1h-4zM261 460h4v1h-4zM265 459h5v1h-5zM270 458h3v1h-3zM273 457h3v1h-3zM276 456h3v1h-3zM279 455h3v1h-3zM282 454h3v1h-3zM285 453h3v1h-3zM288 452h3v1h-3zM291 451h3v1h-3zM294 450h5v1h-5zM299 449h5v1h-5zM304 448h5v1h-5zM309 447h5v1h-5zM314 446h9v1h-9zM323 445h9v1h-9zM332 444h9v1h-9zM341 443h21v1h-21zM362 442h35v1h-35zM397 441h9v1h-9zM406 440h9v1h-9zM415 439h10v1h-10zM425 438h9v1h-9zM434 437h10v1h-10zM444 436h6v1h-6zM450 435h6v1h-6zM456 434h6v1h-6zM462 433h6v1h-6zM468 432h6v1h-6zM474 431h5v1h-5zM479 430h5v1h-5zM484 429h4v1h-4zM488 428h5v1h-5zM493 427h5v1h-5zM498 426h6v1h-6zM504 425h6v1h-6zM510 424h6v1h-6zM516 423h6v1h-6zM522 422h6v1h-6zM528 421h8v1h-8zM536 420h9v1h-9zM545 419h6v1h-6zM551 418h6v1h-6zM557 417h6v1h-6zM563 416h5v1h-5zM568 415h6v1h-6zM574 414h5v1h-5zM579 413h5v1h-5zM584 412h5v1h-5zM589 411h4v1h-4zM593 410h5v1h-5zM598 409h4v1h-4zM602 408h4v1h-4zM606 407h5v1h-5zM611 406h4v1h-4zM615 405h4v1h-4zM619 404h13v1h-13zM632 403h24v1h-24zM656 402h4v1h-4zM660 401h4v1h-4zM664 400h4v1h-4zM668 399h4v1h-4zM672 398h5v1h-5zM677 397h4v1h-4zM681 396h4v1h-4zM685 395h4v1h-4zM689 394h3v1h-3zM692 393h4v1h-4zM696 392h4v1h-4zM700 391h4v1h-4zM704 390h4v1h-4zM708 389h2v1h-2zM710 388h2v1h-2zM712 387h2v1h-2zM714 386h3v1h-3zM717 385h2v1h-2zM719 384h2v1h-2zM721 383h2v1h-2zM723 382h2v1h-2zM725 381h2v1h-2zM727 380h2v1h-2zM729 379h3v1h-3zM732 378h2v1h-2zM734 377h3v1h-3zM737 376h3v1h-3zM740 375h3v1h-3zM743 374h2v1h-2zM745 373h3v1h-3zM748 372h3v1h-3zM751 371h3v1h-3zM754 370h3v1h-3zM757 369h2v1h-2zM759 368h3v1h-3zM762 367h3v1h-3zM765 366h3v1h-3zM768 365h3v1h-3zM771 364h3v1h-3zM774 363h3v1h-3zM777 362h2v1h-2zM779 361h3v1h-3zM782 360h3v1h-3zM785 359h3v1h-3zM788 358h3v1h-3zM791 357h3v1h-3zM794 356h3v1h-3zM797 355h2v1h-2zM799 354h4v1h-4zM803 353h4v1h-4zM807 352h5v1h-5zM812 351h4v1h-4zM816 350h4v1h-4zM820 349h4v1h-4zM824 348h4v1h-4zM828 347h3v1h-3zM831 346h3v1h-3zM834 345h2v1h-2zM836 344h3v1h-3zM839 343h3v1h-3zM842 342h3v1h-3zM845 341h2v1h-2zM847 340h3v1h-3zM850 339h1v1h-1zM851 338h2v1h-2zM853 337h2v1h-2zM855 336h2v1h-2zM857 335h2v1h-2zM859 334h2v1h-2zM861 333h2v1h-2zM863 332h2v1h-2zM865 331h2v1h-2zM867 330h2v1h-2zM869 329h1v1h-1zM870 328h2v1h-2zM872 327h2v1h-2zM874 326h2v1h-2zM876 325h2v1h-2zM878 324h2v1h-2zM880 323h2v1h-2zM882 322h2v1h-2zM884 321h2v1h-2zM886 320h2v1h-2zM888 319h2v1h-2zM890 318h2v1h-2zM892 317h2v1h-2zM894 316h2v1h-2zM896 315h2v1h-2zM898 314h2v1h-2zM900 313h2v1h-2zM902 312h2v1h-2zM904 311h2v1h-2zM906 310h2v1h-2zM908 309h2v1h-2zM910 308h1v1h-1zM911 307h2v1h-2zM913 306h2v1h-2zM915 305h2v1h-2zM917 304h1v1h-1zM918 303h2v1h-2zM920 302h2v1h-2zM922 301h1v1h-1zM923 300h2v1h-2zM925 299h2v1h-2zM927 298h2v1h-2zM929 297h1v1h-1zM930 296h2v1h-2zM932 295h2v1h-2zM934 294h2v1h-2zM936 293h2v1h-2zM938 292h2v1h-2zM940 291h2v1h-2zM942 290h2v1h-2zM944 289h2v1h-2zM946 288h2v1h-2zM948 287h3v1h-3zM951 286h2v1h-2zM953 285h3v1h-3zM956 284h3v1h-3zM959 283h2v1h-2zM961 282h3v1h-3zM964 281h3v1h-3zM967 280h2v1h-2zM969 279h3v1h-3zM972 278h3v1h-3zM975 277h2v1h-2zM977 276h3v1h-3zM980 275h3v1h-3zM983 274h2v1h-2zM985 273h3v1h-3zM988 272h2v1h-2zM990 271h3v1h-3zM993 270h3v1h-3zM996 269h2v1h-2zM998 268h3v1h-3zM1001 267h2v1h-2zM1003 266h4v1h-4zM1007 265h5v1h-5zM1012 264h5v1h-5z" fill="#ffa500" shape-rendering="crispEdges"/>
<path d="M10 464h3v1h-3zM13 463h4v1h-4zM17 462h4v1h-4zM21 461h3v1h-3zM24 460h3v1h-3zM27 459h3v1h-3zM30 458h3v1h-3zM33 457h3v1h-3zM36 456h2v1h-2zM38 455h3v1h-3zM41 454h5v1h-5zM46 453h4v1h-4zM50 452h3v1h-3zM53 451h2v1h-2zM55 450h3v1h-3zM58 449h2v1h-2zM60 448h3v1h-3zM63 447h2v1h-2zM65 446h3v1h-3zM68 445h2v1h-2zM70 444h3v1h-3zM73 443h4v1h-4zM77 442h4v1h-4zM81 441h3v1h-3zM84 440h2v1h-2zM86 439h3v1h-3zM89 438h3v1h-3zM92 437h2v1h-2zM94 436h2v1h-2zM96 435h2v1h-2zM98 434h2v1h-2zM100 433h2v1h-2zM102 432h2v1h-2zM104 431h2v1h-2zM106 430h2v1h-2zM108 429h2v1h-2zM110 428h2v1h-2zM112 427h1v1h-1zM113 426h2v1h-2zM115 425h2v1h-2zM117 424h2v1h-2zM119 423h1v1h-1zM120 422h3v1h-3zM123 421h2v1h-2zM125 420h3v1h-3zM128 419h2v1h-2zM130 418h3v1h-3zM133 417h2v1h-2zM135 416h3v1h-3zM138 415h3v1h-3zM141 414h2v1h-2zM143 413h3v1h-3zM146 412h2v1h-2zM148 411h2v1h-2zM150 410h2v1h-2zM152 409h3v1h-3zM155 408h2v1h-2zM157 407h2v1h-2zM159 406h3v1h-3zM162 405h2v1h-2zM164 404h2v1h-2zM166 403h2v1h-2zM168 402h3v1h-3zM171 401h2v1h-2zM173 400h5v1h-5zM178 399h4v1h-4zM182 398h3v1h-3zM185 397h3v1h-3zM188 396h2v1h-2zM190 395h3v1h-3zM193 394h2v1h-2zM195 393h3v1h-3zM198 392h2v1h-2zM200 391h2v1h-2zM202 390h3v1h-3zM205 389h4v1h-4zM209 388h6v1h-6zM215 387h4v1h-4zM219 386h4v1h-4zM223 385h4v1h-4zM227 384h6v1h-6zM233 385h3v1h-3zM236 386h4v1h-4zM240 387h4v1h-4zM244 388h12v1h-12zM256 387h3v1h-3zM259 386h4v1h-4zM263 385h3v1h-3zM266 384h2v1h-2zM268 383h3v1h-3zM271 382h2v1h-2zM273 381h3v1h-3zM276 380h2v1h-2zM278 379h2v1h-2zM280 378h2v1h-2zM282 377h2v1h-2zM284 376h2v1h-2zM286 375h3v1h-3zM289 374h2v1h-2zM291 373h2v1h-2zM293 372h2v1h-2zM295 371h3v1h-3zM298 370h2v1h-2zM300 369h5v1h-5zM305 370h11v1h-11zM316 371h4v1h-4zM320 372h5v1h-5zM325 373h4v1h-4zM329 374h3v1h-3zM332 375h3v1h-3zM335 376h3v1h-3zM338 377h2v1h-2zM340 378h3v1h-3zM343 379h3v1h-3zM346 380h2v1h-2zM348 381h2v1h-2zM350 382h3v1h-3zM353 383h2v1h-2zM355 384h2v1h-2zM357 385h2v1h-2zM359 386h3v1h-3zM362 387h1v1h-1zM363 388h2v1h-2zM365 389h1v1h-1zM366 390h2v1h-2zM368 391h1v1h-1zM369 392h2v1h-2zM371 393h2v1h-2zM373 394h1v1h-1zM374 395h2v1h-2zM376 396h2v1h-2zM378 397h1v1h-1zM379 398h2v1h-2zM381 399h2v1h-2zM383 400h2v1h-2zM385 401h2v1h-2zM387 402h2v1h-2zM389 403h2v1h-2zM391 404h2v1h-2zM393 405h2v1h-2zM395 406h6v1h-6zM401 407h7v1h-7zM408 406h14v1h-14zM422 405h6v1h-6zM428 404h7v1h-7zM435 403h3v1h-3zM438 402h4v1h-4zM442 401h3v1h-3zM445 400h3v1h-3zM448 399h3v1h-3zM451 398h1v1h-1zM452 397h2v1h-2zM454 396h2v1h-2zM456 395h2v1h-2zM458 394h1v1h-1zM459 393h2v1h-2zM461 392h2v1h-2zM463 391h2v1h-2zM465 390h8v1h-8zM473 389h6v1h-6zM479 388h3v1h-3zM482 387h4v1h-4zM486 386h1v1h-1zM487 385h2v1h-2zM489 384h1v1h-1zM490 383h2v1h-2zM492 382h2v1h-2zM494 381h1v1h-1zM495 380h2v1h-2zM497 379h3v1h-3zM500 378h3v1h-3zM503 377h2v1h-2zM505 376h6v1h-6zM511 375h6v1h-6zM517 374h8v1h-8zM525 373h7v1h-7zM532 372h10v1h-10zM542 371h13v1h-13zM555 370h5v1h-5zM560 369h5v1h-5zM565 368h3v1h-3zM568 367h3v1h-3zM571 366h2v1h-2zM573 365h3v1h-3zM576 364h4v1h-4zM580 363h4v1h-4zM584 362h3v1h-3zM587 361h2v1h-2zM589 360h2v1h-2zM591 359h1v1h-1zM592 358h2v1h-2zM594 357h2v1h-2zM596 356h2v1h-2zM598 355h2v1h-2zM600 354h1v1h-1zM601 353h2v1h-2zM603 352h3v1h-3zM606 351h4v1h-4zM610 350h3v1h-3zM613 349h2v1h-2zM615 348h3v1h-3zM618 347h8v1h-8zM626 348h2v1h-2zM628 349h3v1h-3zM631 350h2v1h-2zM633 351h1v1h-1zM634 352h2v1h-2zM636 353h1v1h-1zM637 354h1v1h-1zM638 355h1v1h-1zM639 356h2v1h-2zM641 357h2v1h-2zM643 358h1v1h-1zM644 359h2v1h-2zM646 360h5v1h-5zM651 361h2v1h-2zM653 360h3v1h-3zM656 359h3v1h-3zM659 358h3v1h-3zM662 357h3v1h-3zM665 356h2v1h-2zM667 355h1v1h-1zM668 354h2v1h-2zM670 353h1v1h-1zM671 352h2v1h-2zM673 351h1v1h-1zM674 350h2v1h-2zM676 349h1v1h-1zM677 348h1v1h-1zM678 347h1v1h-1zM679 346h2v1h-2zM681 345h1v1h-1zM682 344h1v1h-1zM683 343h2v1h-2zM685 342h1v1h-1zM686 341h2v1h-2zM688 340h2v1h-2zM690 339h3v1h-3zM693 338h1v1h-1zM694 337h1v1h-1zM695 336h1v1h-1zM696 335h2v1h-2zM698 334h1v1h-1zM699 333h1v1h-1zM700 332h1v1h-1zM701 331h2v1h-2zM703 330h2v1h-2zM705 329h1v1h-1zM706 328h2v1h-2zM708 327h2v1h-2zM710 326h1v1h-1zM711 325h1v1h-1zM712 323h1v2h-1zM713 322h1v1h-1zM714 321h1v1h-1zM715 320h1v1h-1zM716 319h1v1h-1zM717 317h1v2h-1zM718 316h1v1h-1zM719 315h1v1h-1zM720 314h1v1h-1zM721 312h1v2h-1zM722 311h1v1h-1zM723 310h1v1h-1zM724 309h1v1h-1zM725 308h1v1h-1zM726 306h1v2h-1zM727 305h1v1h-1zM728 304h1v1h-1zM729 303h1v1h-1zM730 302h1v1h-1zM731 301h1v1h-1zM732 300h1v1h-1zM733 299h1v1h-1zM734 298h1v1h-1zM735 297h1v1h-1zM736 296h2v1h-2zM738 295h1v1h-1zM739 294h2v1h-2zM741 293h2v1h-2zM743 292h1v1h-1zM744 291h2v1h-2zM746 290h1v1h-1zM747 289h2v1h-2zM749 288h1v1h-1zM750 287h2v1h-2zM752 286h1v1h-1zM753 285h2v1h-2zM755 284h1v1h-1zM756 283h2v1h-2zM758 282h1v1h-1zM759 281h1v1h-1zM760 280h2v1h-2zM762 279h1v1h-1zM763 278h1v1h-1zM764 277h1v1h-1zM765 276h1v1h-1zM766 275h1v1h-1zM767 274h1v1h-1zM768 273h2v1h-2zM770 272h1v1h-1zM771 271h2v1h-2zM773 270h1v1h-1zM774 269h2v1h-2zM776 268h1v1h-1zM777 267h2v1h-2zM779 266h2v1h-2zM781 265h1v1h-1zM782 264h2v1h-2zM784 263h2v1h-2zM786 262h2v1h-2zM788 261h1v1h-1zM789 260h4v1h-4zM793 259h4v1h-4zM797 258h5v1h-5zM802 257h5v1h-5zM807 256h5v1h-5zM812 255h5v1h-5zM817 254h6v1h-6zM823 253h6v1h-6zM829 252h3v1h-3zM832 251h2v1h-2zM834 250h2v1h-2zM836 249h2v1h-2zM838 248h2v1h-2zM840 247h2v1h-2zM842 246h1v1h-1zM843 245h1v1h-1zM844 244h1v1h-1zM845 243h1v1h-1zM846 242h2v1h-2zM848 241h1v1h-1zM849 240h1v1h-1zM850 239h2v1h-2zM852 238h1v1h-1zM853 237h1v1h-1zM854 236h2v1h-2zM856 235h1v1h-1zM857 234h1v1h-1zM858 233h1v1h-1zM859 232h1v1h-1zM860 230h1v2h-1zM861 229h1v1h-1zM862 228h1v1h-1zM863 227h1v1h-1zM864 226h1v1h-1zM865 224h1v2h-1zM866 223h1v1h-1zM867 222h2v1h-2zM869 221h1v1h-1zM870 220h1v1h-1zM871 219h1v1h-1zM872 218h1v1h-1zM873 217h1v1h-1zM874 216h1v1h-1zM875 215h2v1h-2zM877 214h1v1h-1zM878 213h1v1h-1zM879 212h1v1h-1zM880 211h1v1h-1zM881 210h1v1h-1zM882 209h1v1h-1zM883 208h1v1h-1zM884 207h1v1h-1zM885 206h1v1h-1zM886 205h1v1h-1zM887 204h1v1h-1zM888 203h1v1h-1zM889 202h1v1h-1zM890 201h1v1h-1zM891 200h1v1h-1zM892 199h1v1h-1zM893 198h1v1h-1zM894 197h1v1h-1zM895 196h1v1h-1zM896 195h1v1h-1zM897 193h1v2h-1zM898 192h1v1h-1zM899 191h1v1h-1zM900 190h1v1h-1zM901 189h1v1h-1zM902 188h1v1h-1zM903 187h1v1h-1zM904 186h1v1h-1zM905 185h1v1h-1zM906 184h1v1h-1zM907 182h1v2h-1zM908 181h1v1h-1zM909 180h1v1h-1zM910 179h1v1h-1zM911 177h1v2h-1zM912 176h1v1h-1zM913 175h1v1h-1zM914 173h1v2h-1zM915 172h1v1h-1zM916 171h1v1h-1zM917 170h1v1h-1zM918 169h1v1h-1zM919 167h1v2h-1zM920 166h1v1h-1zM921 165h1v1h-1zM922 164h1v1h-1zM923 163h1v1h-1zM924 162h1v1h-1zM925 161h1v1h-1zM926 160h1v1h-1zM927 158h1v2h-1zM928 157h1v1h-1zM929 156h1v1h-1zM930 155h1v1h-1zM931 153h1v2h-1zM932 152h1v1h-1zM933 151h1v1h-1zM934 150h1v1h-1zM935 149h1v1h-1zM936 148h1v1h-1zM937 147h1v1h-1zM938 146h2v1h-2zM940 145h2v1h-2zM942 144h1v1h-1zM943 143h20v1h-20zM963 142h3v1h-3zM966 141h3v1h-3zM969 140h2v1h-2zM971 139h8v1h-8zM979 140h10v1h-10zM989 139h4v1h-4zM993 138h11v1h-11zM1004 139h2v1h-2zM1006 140h2v1h-2zM1008 141h1v1h-1zM1009 142h7v1h-7z" fill="#a52a2a" shape-rendering="crispEdges"/>
<g shape-rendering="crispEdges" fill="#000">
<rect x="1" y="30" width="1025" height="1"/>
<rect x="1" y="544" width="1025" height="1"/>
<rect x="1" y="30" width="1" height="515"/>
<rect x="1025" y="30" width="1" height="515"/>
<rect x="1026" y="537" width="1" height="1"/>
<rect x="0" y="537" width="1" height="1"/>
<rect x="1026" y="529" width="1" height="1"/>
<rect x="0" y="529" width="1" height="1"/>
<rect x="1026" y="521" width="1" height="1"/>
<rect x="0" y="521" width="1" height="1"/>
<rect x="1026" y="513" width="1" height="1"/>
<rect x="0" y="513" width="1" height="1"/>
<rect x="1026" y="505" width="1" height="1"/>
<rect x="0" y="505" width="1" height="1"/>
<rect x="1026" y="498" width="2" height="1"/>
<rect x="0" y="498" width="1" height="1"/>
<rect x="1026" y="490" width="1" height="1"/>
<rect x="0" y="490" width="1" height="1"/>
<rect x="1026" y="482" width="1" height="1"/>
<rect x="0" y="482" width="1" height="1"/>
<rect x="1026" y="474" width="1" height="1"/>
<rect x="0" y="474" width="1" height="1"/>
<rect x="1026" y="466" width="1" height="1"/>
<rect x="0" y="466" width="1" height="1"/>
<rect x="1026" y="458" width="1" height="1"/>
<rect x="0" y="458" width="1" height="1"/>
<rect x="1026" y="450" width="1" height="1"/>
<rect x="0" y="450" width="1" height="1"/>
<rect x="1026" y="442" width="1" height="1"/>
<rect x="0" y="442" width="1" height="1"/>
<rect x="1026" y="434" width="1" height="1"/>
<rect x="0" y="434" width="1" height="1"/>
<rect x="1026" y="426" width="1" height="1"/>
<rect x="0" y="426" width="1" height="1"/>
<rect x="1026" y="419" width="2" height="1"/>
<rect x="0" y="419" width="1" height="1"/>
<rect x="1026" y="411" width="1" height="1"/>
<rect x="0" y="411" width="1" height="1"/>
<rect x="1026" y="403" width="1" height="1"/>
<rect x="0" y="403" width="1" height="1"/>
<rect x="1026" y="395" width="1" height="1"/>
<rect x="0" y="395" width="1" height="1"/>
<rect x="1026" y="387" width="1" height="1"/>
<rect x="0" y="387" width="1" height="1"/>
<rect x="1026" y="379" width="1" height="1"/>
<rect x="0" y="379" width="1" height="1"/>
<rect x="1026" y="371" width="1" height="1"/>
<rect x="0" y="371" width="1" height="1"/>
<rect x="1026" y="363" width="1" height="1"/>
<rect x="0" y="363" width="1" height="1"/>
<rect x="1026" y="355" width="1" height="1"/>
<rect x="0" y="355" width="1" height="1"/>
<rect x="1026" y="347" width="1" height="1"/>
<rect x="0" y="347" width="1" height="1"/>
<rect x="1026" y="340" width="2" height="1"/>
<rect x="0" y="340" width="1" height="1"/>
<rect x="1026" y="332" width="1" height="1"/>
<rect x="0" y="332" width="1" height="1"/>
<rect x="1026" y="324" width="1" height="1"/>
<rect x="0" y="324" width="1" height="1"/>
<rect x="1026" y="316" width="1" height="1"/>
<rect x="0" y="316" width="1" height="1"/>
<rect x="1026" y="308" width="1" height="1"/>
<rect x="0" y="308" width="1" height="1"/>
<rect x="1026" y="301" width="1" height="1"/>
<rect x="0" y="301" width="1" height="1"/>
<rect x="1026" y="293" width="1" height="1"/>
<rect x="0" y="293" width="1" height="1"/>
<rect x="1026" y="285" width="1" height="1"/>
<rect x="0" y="285" width="1" height="1"/>
<rect x="1026" y="277" width="1" height="1"/>
<rect x="0" y="277" width="1" height="1"/>
<rect x="1026" y="269" width="1" height="1"/>
<rect x="0" y="269" width="1" height="1"/>
<rect x="1026" y="262" width="2" height="1"/>
<rect x="0" y="262" width="1" height="1"/>
<rect x="1026" y="254" width="1" height="1"/>
<rect x="0" y="254" width="1" height="1"/>
<rect x="1026" y="246" width="1" height="1"/>
<rect x="0" y="246" width="1" height="1"/>
<rect x="1026" y="238" width="1" height="1"/>
<rect x="0" y="238" width="1" height="1"/>
<rect x="1026" y="230" width="1" height="1"/>
<rect x="0" y="230" width="1" height="1"/>
<rect x="1026" y="222" width="1" height="1"/>
<rect x="0" y="222" width="1" height="1"/>
<rect x="1026" y="214" width="1" height="1"/>
<rect x="0" y="214" width="1" height="1"/>
<rect x="1026" y="206" width="1" height="1"/>
<rect x="0" y="206" width="1" height="1"/>
<rect x="1026" y="198" width="1" height="1"/>
<rect x="0" y="198" width="1" height="1"/>
<rect x="1026" y="190" width="1" height="1"/>
<rect x="0" y="190" width="1" height="1"/>
<rect x="1026" y="183" width="2" height="1"/>
<rect x="0" y="183" width="1" height="1"/>
<rect x="1026" y="175" width="1" height="1"/>
<rect x="0" y="175" width="1" height="1"/>
<rect x="1026" y="167" width="1" height="1"/>
<rect x="0" y="167" width="1" height="1"/>
<rect x="1026" y="159" width="1" height="1"/>
<rect x="0" y="159" width="1" height="1"/>
<rect x="1026" y="151" width="1" height="1"/>
<rect x="0" y="151" width="1" height="1"/>
<rect x="1026" y="143" width="1" height="1"/>
<rect x="0" y="143" width="1" height="1"/>
<rect x="1026" y="135" width="1" height="1"/>
<rect x="0" y="135" width="1" height="1"/>
<rect x="1026" y="127" width="1" height="1"/>
<rect x="0" y="127" width="1" height="1"/>
<rect x="1026" y="119" width="1" height="1"/>
<rect x="0" y="119" width="1" height="1"/>
<rect x="1026" y="111" width="1" height="1"/>
<rect x="0" y="111" width="1" height="1"/>
<rect x="1026" y="104" width="2" height="1"/>
<rect x="0" y="104" width="1" height="1"/>
<rect x="1026" y="96" width="1" height="1"/>
<rect x="0" y="96" width="1" height="1"/>
<rect x="1026" y="88" width="1" height="1"/>
<rect x="0" y="88" width="1" height="1"/>
<rect x="1026" y="80" width="1" height="1"/>
<rect x="0" y="80" width="1" height="1"/>
<rect x="1026" y="72" width="1" height="1"/>
<rect x="0" y="72" width="1" height="1"/>
<rect x="1026" y="64" width="1" height="1"/>
<rect x="0" y="64" width="1" height="1"/>
<rect x="1026" y="56" width="1" height="1"/>
<rect x="0" y="56" width="1" height="1"/>
<rect x="1026" y="48" width="1" height="1"/>
<rect x="0" y="48" width="1" height="1"/>
<rect x="1026" y="40" width="1" height="1"/>
<rect x="0" y="40" width="1" height="1"/>
<rect x="1026" y="32" width="1" height="1"/>
<rect x="0" y="32" width="1" height="1"/>
<rect x="10" y="545" width="1" height="4"/>
<rect x="41" y="545" width="1" height="4"/>
<rect x="91" y="545" width="1" height="4"/>
<rect x="141" y="545" width="1" height="4"/>
<rect x="192" y="545" width="1" height="4"/>
<rect x="242" y="545" width="1" height="4"/>
<rect x="292" y="545" width="1" height="4"/>
<rect x="342" y="545" width="1" height="4"/>
<rect x="397" y="545" width="1" height="4"/>
<rect x="443" y="545" width="1" height="4"/>
<rect x="493" y="545" width="1" height="4"/>
<rect x="547" y="545" width="1" height="4"/>
<rect x="598" y="545" width="1" height="4"/>
<rect x="648" y="545" width="1" height="4"/>
<rect x="698" y="545" width="1" height="4"/>
<rect x="748" y="545" width="1" height="4"/>
<rect x="799" y="545" width="1" height="4"/>
<rect x="849" y="545" width="1" height="4"/>
<rect x="899" y="545" width="1" height="4"/>
<rect x="949" y="545" width="1" height="4"/>
<rect x="1000" y="545" width="1" height="4"/>
</g>
<text x="11.2" y="21" font-size="16" letter-spacing="0.339" fill="#000">Meta Platforms, Inc.</text>
<text x="186.7" y="21" font-size="16" letter-spacing="0.781" fill="#000">(FB US EQUITY)</text>
<text x="324.8" y="21" font-size="16" letter-spacing="0.539" fill="#000">322.22</text>
<text x="389.9" y="21" font-size="16" letter-spacing="0.819" fill="#0000ff">20.51</text>
<text x="984.7" y="20" font-size="15.3" letter-spacing="0.026" fill="#000">2022-02-02</text>
<text x="9.8" y="45" font-size="13.33" letter-spacing="0.156" fill="#0000ee">Weekly</text>
<text x="9.5" y="65" font-size="13.33" letter-spacing="0.378" fill="#a52a2a">EMA 200</text>
<text x="9.5" y="105" font-size="13.33" letter-spacing="0.469" fill="#ffa500">EMA 1000</text>
<text x="1.0" y="590" font-size="14.67" letter-spacing="0.137" fill="#0000ff">www.fullertreacymoney.com</text>
<text x="626.4" y="590" font-size="12" letter-spacing="0.175" fill="#999999">This website is © 2008-2022 Fuller Treacy Money plc. All rights reserved</text>
<text x="1030.8" y="109" font-size="12" fill="#000">350</text>
<text x="1030.8" y="188" font-size="12" fill="#000">300</text>
<text x="1030.8" y="267" font-size="12" fill="#000">250</text>
<text x="1030.8" y="345" font-size="12" fill="#000">200</text>
<text x="1030.8" y="424" font-size="12" fill="#000">150</text>
<text x="1030.8" y="503" font-size="12" fill="#000">100</text>
<text x="32.59" y="563" font-size="12" fill="#000">Apr</text>
<text x="86.43" y="563" font-size="12" fill="#000">Jul</text>
<text x="132.48" y="563" font-size="12" fill="#000">Oct</text>
<text x="179.05" y="563" font-size="12" fill="#000">2018</text>
<text x="233.59" y="563" font-size="12" fill="#000">Apr</text>
<text x="287.43" y="563" font-size="12" fill="#000">Jul</text>
<text x="333.48" y="563" font-size="12" fill="#000">Oct</text>
<text x="384.05" y="563" font-size="12" fill="#000">2019</text>
<text x="434.59" y="563" font-size="12" fill="#000">Apr</text>
<text x="488.43" y="563" font-size="12" fill="#000">Jul</text>
<text x="538.48" y="563" font-size="12" fill="#000">Oct</text>
<text x="585.05" y="563" font-size="12" fill="#000">2020</text>
<text x="639.59" y="563" font-size="12" fill="#000">Apr</text>
<text x="693.43" y="563" font-size="12" fill="#000">Jul</text>
<text x="739.48" y="563" font-size="12" fill="#000">Oct</text>
<text x="786.05" y="563" font-size="12" fill="#000">2021</text>
<text x="840.59" y="563" font-size="12" fill="#000">Apr</text>
<text x="894.43" y="563" font-size="12" fill="#000">Jul</text>
<text x="940.48" y="563" font-size="12" fill="#000">Oct</text>
<text x="987.05" y="563" font-size="12" fill="#000">2022</text>
</svg></body></html>
